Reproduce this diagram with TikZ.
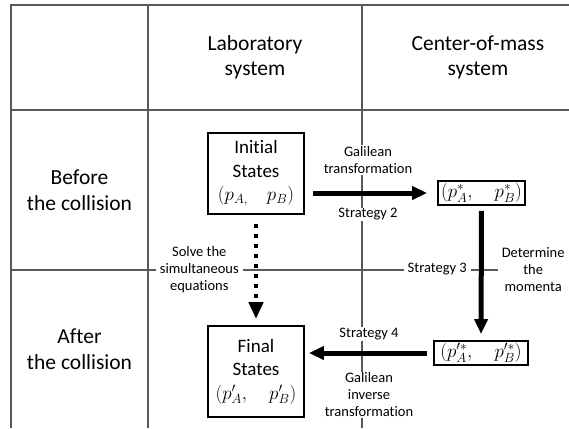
\RequirePackage{fix-cm}
\documentclass[tikz,border=0pt]{standalone}
\usepackage{fontspec}
\setmainfont[Ligatures={NoCommon}]{Carlito}
\usetikzlibrary{arrows.meta}

\begin{document}
\begin{tikzpicture}[x=1pt,y=-1pt,
  grid line/.style={draw=black!65,line width=1.2pt},
  head/.style={align=center,font=\fontsize{21.5}{25.5}\selectfont},
  state/.style={draw,line width=1.8pt,align=center,inner sep=0pt,
    font=\fontsize{19}{23.5}\selectfont},
  note/.style={fill=white,align=center,inner xsep=4pt,inner ysep=1pt,
    font=\fontsize{14.5}{17}\selectfont},
  big arrow/.style={line width=5pt,-{Triangle[length=15pt,width=13pt]}},
  ]
  \useasboundingbox (0,0) rectangle (569,428);
  % table
  \draw[grid line] (569,5) -- (11,5) -- (11,428);
  \draw[grid line] (11,110) -- (569,110);
  \draw[grid line] (11,270) -- (569,270);
  \draw[grid line] (148,5) -- (148,428);
  \draw[grid line] (362,5) -- (362,428);
  \node[head] (lab) at (255,57.5) {Laboratory\\system};
  \node[head] (cm) at (478,57.5) {Center-of-mass\\system};
  \node[head] (before) at (79.5,190) {Before\\the collision};
  \node[head] (after) at (79.5,349) {After\\the collision};
  % states
  \node[state,minimum width=96pt,minimum height=81pt] (init) at (256,173.5)
    {Initial\\States\\$(p_{A,}\quad p_B)$};
  \node[state,minimum width=96pt,minimum height=91pt] (final) at (256,371.5)
    {Final\\States\\$(p'_A,\quad p'_B)$};
  \node[state,minimum width=87pt,minimum height=24pt] (cmi) at (481.5,193)
    {$(p^*_A,\quad p^*_B)$};
  \node[state,minimum width=94pt,minimum height=24pt] (cmf) at (481,353)
    {$(p'^*_A,\quad p'^*_B)$};
  % strategies
  \draw[big arrow,shorten <=8pt,shorten >=10pt] (init.east |- cmi.west) --
    node[note,above=16pt,xshift=-3pt] {Galilean\\transformation}
    node[note,below=12pt,xshift=-3pt] {Strategy 2} (cmi.west);
  \draw[big arrow,shorten <=5pt,shorten >=6pt] (cmi.south) --
    node[note,left=8pt,yshift=4pt] {Strategy 3}
    node[note,right=14pt,yshift=3pt] {Determine\\the\\momenta} (cmf.north);
  \draw[big arrow,shorten <=6pt,shorten >=4pt] (cmf.west) --
    node[note,above=9.5pt] {Strategy 4}
    node[note,below=16pt] {Galilean\\inverse\\transformation} (final.east |- cmf.west);
  \draw[line width=4.5pt,dash pattern=on 4.5pt off 5.5pt,
    -{Triangle[length=17pt,width=14pt]},shorten <=9pt,shorten >=6pt]
    (init.south) -- node[note,left=11pt] {Solve the\\simultaneous\\equations} (final.north);
\end{tikzpicture}
\end{document}
